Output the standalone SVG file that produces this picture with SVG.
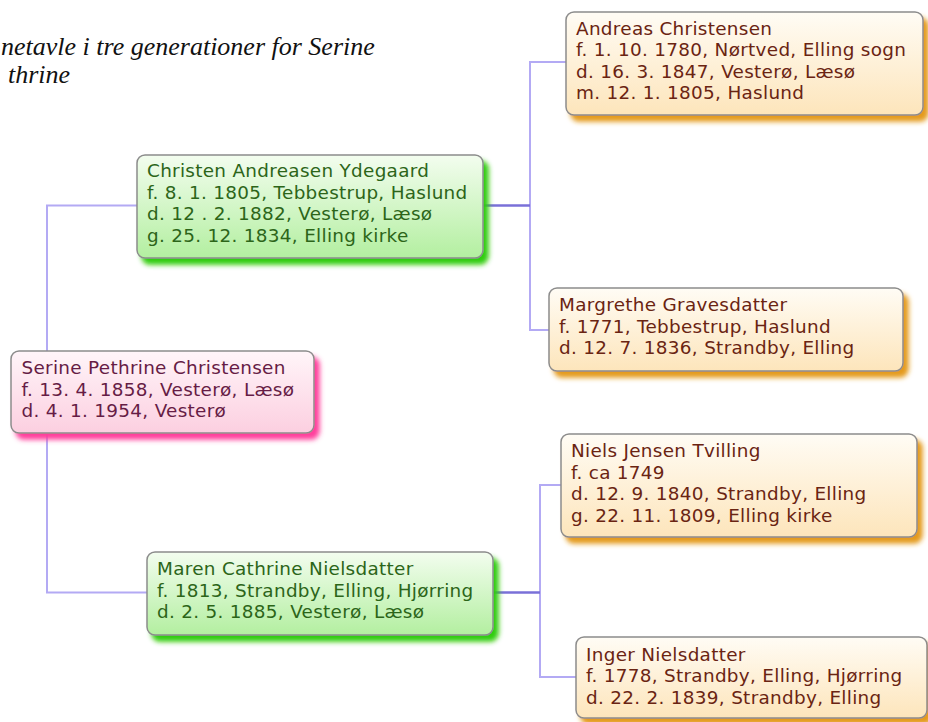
<svg xmlns="http://www.w3.org/2000/svg" width="928" height="722" viewBox="0 0 928 722">
<defs>
<style>
.title{font-family:"Liberation Serif","Times New Roman",serif;font-style:italic;font-size:26px;fill:#111}
.t{font-family:"DejaVu Sans","Liberation Sans",Arial,sans-serif;font-size:18.4px;letter-spacing:0.3px}
.tg{fill:#2c6519}
.tp{fill:#661c45}
.to{fill:#6a2412}
.box{stroke:#8c8c8c;stroke-width:1.5}
.c{fill:none;stroke:#b3aaf4;stroke-width:2}
.cd{fill:none;stroke:#7a70d8;stroke-width:2.5}
</style>
<linearGradient id="gG" x1="0" y1="0" x2="0" y2="1"><stop offset="0" stop-color="#f3fdef"/><stop offset="1" stop-color="#b3efa0"/></linearGradient>
<linearGradient id="gP" x1="0" y1="0" x2="0" y2="1"><stop offset="0" stop-color="#fff5f9"/><stop offset="1" stop-color="#fccfe0"/></linearGradient>
<linearGradient id="gO" x1="0" y1="0" x2="0" y2="1"><stop offset="0" stop-color="#fffcf5"/><stop offset="1" stop-color="#fde5bb"/></linearGradient>
<filter id="sG" x="-5%" y="-10%" width="115%" height="130%"><feGaussianBlur in="SourceAlpha" stdDeviation="2.5"/><feOffset dx="5" dy="6" result="b"/><feFlood flood-color="#2fcc0a"/><feComposite in2="b" operator="in"/><feMerge><feMergeNode/><feMergeNode in="SourceGraphic"/></feMerge></filter>
<filter id="sP" x="-5%" y="-10%" width="115%" height="130%"><feGaussianBlur in="SourceAlpha" stdDeviation="2.5"/><feOffset dx="5" dy="6" result="b"/><feFlood flood-color="#ff3f9c"/><feComposite in2="b" operator="in"/><feMerge><feMergeNode/><feMergeNode in="SourceGraphic"/></feMerge></filter>
<filter id="sO" x="-5%" y="-10%" width="115%" height="130%"><feGaussianBlur in="SourceAlpha" stdDeviation="2.5"/><feOffset dx="5" dy="6" result="b"/><feFlood flood-color="#e49a1c"/><feComposite in2="b" operator="in"/><feMerge><feMergeNode/><feMergeNode in="SourceGraphic"/></feMerge></filter>
</defs>
<rect width="928" height="722" fill="#ffffff"/>
<g id="title">
<text class="title" x="1" y="55">netavle i tre generationer for Serine</text>
<text class="title" x="8" y="83">thrine</text>
</g>
<g id="connectors">
<path class="c" d="M137 205.5 H47 V592.5 H147"/>
<path class="c" d="M566 62 H530 V330 H549"/>
<path class="c" d="M561 485 H540 V677 H576"/>
<path class="cd" d="M483 205.5 H530"/>
<path class="cd" d="M493 592.5 H540"/>
</g>
<g id="andreas">
<rect class="box" x="566" y="12" width="357" height="103" rx="8" fill="url(#gO)" filter="url(#sO)"/>
<text class="t to"><tspan x="576" y="34.5">Andreas Christensen</tspan><tspan x="576" y="56">f. 1. 10. 1780, Nørtved, Elling sogn</tspan><tspan x="576" y="77.5">d. 16. 3. 1847, Vesterø, Læsø</tspan><tspan x="576" y="99">m. 12. 1. 1805, Haslund</tspan></text>
</g>
<g id="christen">
<rect class="box" x="137" y="155" width="346" height="103" rx="8" fill="url(#gG)" filter="url(#sG)"/>
<text class="t tg"><tspan x="147" y="177">Christen Andreasen Ydegaard</tspan><tspan x="147" y="198.5">f. 8. 1. 1805, Tebbestrup, Haslund</tspan><tspan x="147" y="220">d. 12 . 2. 1882, Vesterø, Læsø</tspan><tspan x="147" y="241.5">g. 25. 12. 1834, Elling kirke</tspan></text>
</g>
<g id="margrethe">
<rect class="box" x="549" y="288" width="354" height="83" rx="8" fill="url(#gO)" filter="url(#sO)"/>
<text class="t to"><tspan x="559" y="311">Margrethe Gravesdatter</tspan><tspan x="559" y="332.5">f. 1771, Tebbestrup, Haslund</tspan><tspan x="559" y="354">d. 12. 7. 1836, Strandby, Elling</tspan></text>
</g>
<g id="serine">
<rect class="box" x="11" y="351" width="303" height="82" rx="8" fill="url(#gP)" filter="url(#sP)"/>
<text class="t tp"><tspan x="21.5" y="374">Serine Pethrine Christensen</tspan><tspan x="21.5" y="395.5">f. 13. 4. 1858, Vesterø, Læsø</tspan><tspan x="21.5" y="417">d. 4. 1. 1954, Vesterø</tspan></text>
</g>
<g id="niels">
<rect class="box" x="561" y="434" width="356" height="103" rx="8" fill="url(#gO)" filter="url(#sO)"/>
<text class="t to"><tspan x="571" y="457">Niels Jensen Tvilling</tspan><tspan x="571" y="478.5">f. ca 1749</tspan><tspan x="571" y="500">d. 12. 9. 1840, Strandby, Elling</tspan><tspan x="571" y="521.5">g. 22. 11. 1809, Elling kirke</tspan></text>
</g>
<g id="maren">
<rect class="box" x="147" y="552" width="346" height="83" rx="8" fill="url(#gG)" filter="url(#sG)"/>
<text class="t tg"><tspan x="157" y="575">Maren Cathrine Nielsdatter</tspan><tspan x="157" y="596.5">f. 1813, Strandby, Elling, Hjørring</tspan><tspan x="157" y="618">d. 2. 5. 1885, Vesterø, Læsø</tspan></text>
</g>
<g id="inger">
<rect class="box" x="576" y="637" width="351" height="81" rx="8" fill="url(#gO)" filter="url(#sO)"/>
<text class="t to"><tspan x="586" y="660.5">Inger Nielsdatter</tspan><tspan x="586" y="682">f. 1778, Strandby, Elling, Hjørring</tspan><tspan x="586" y="703.5">d. 22. 2. 1839, Strandby, Elling</tspan></text>
</g>
</svg>
